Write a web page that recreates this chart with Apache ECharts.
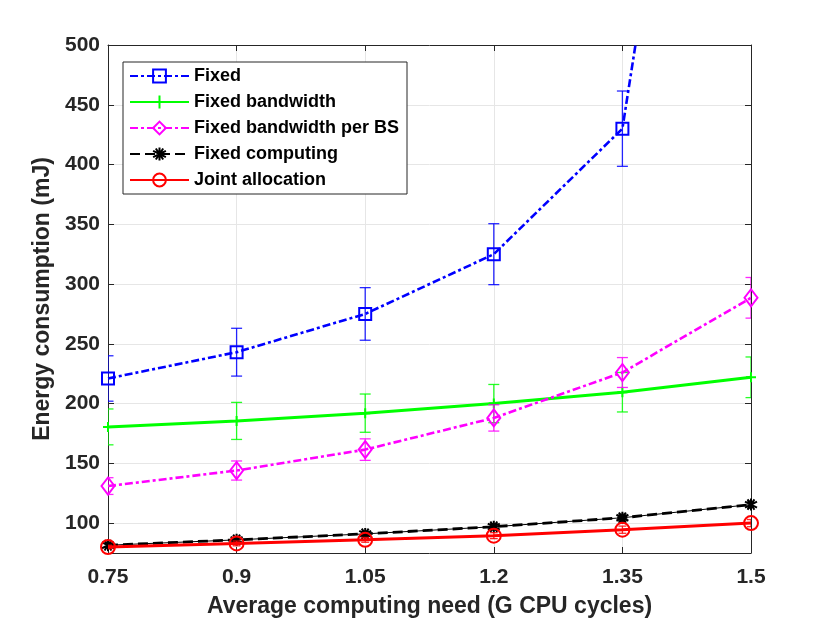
<!DOCTYPE html>
<html lang="en">
<head>
    <meta charset="UTF-8">
    <title>Energy consumption vs computing need</title>
    <script src="https://cdn.jsdelivr.net/npm/echarts@6/dist/echarts.min.js"></script>
    <style>
        html, body { margin: 0; padding: 0; background: #fff; }
        #chart { width: 830px; height: 623px; }
    </style>
</head>
<body>
    <div id="chart"></div>
    <script>
        // values
        var xVals = [0.75, 0.9, 1.05, 1.2, 1.35, 1.5];
        var yTicks = [100, 150, 200, 250, 300, 350, 400, 450, 500];

        var fixed = [221, 243, 275, 325, 430, 1120];
        var fixedErr = [19, 20, 22, 25.5, 31.5, 45];
        var fixedBw = [180.5, 185.5, 192, 200, 209.5, 222];
        var fixedBwErr = [15, 15.5, 16, 16, 16.5, 17];
        var fixedBs = [131, 144, 161.5, 188, 226, 288.5];
        var fixedBsErr = [7, 8, 9, 11, 12.5, 17];
        var fixedComp = [81.5, 86, 91, 97, 104.5, 115.5];
        var fixedCompErr = [1.5, 2, 2, 2.5, 3, 3];
        var joint = [80, 83, 86, 89.5, 94.5, 100];
        var jointErr = [1.5, 2, 2, 2.5, 3, 3];

        var FONT = "'Liberation Sans', Arial, Helvetica, sans-serif";
        var AXIS_COLOR = '#262626';

        function pairs(vals) {
            return xVals.map(function(x, i) { return [x, vals[i]]; });
        }

        function errorBars(name, vals, errs, color, cap, z) {
            return {
                type: 'custom',
                name: name,
                silent: true,
                clip: true,
                z: z,
                data: xVals.map(function(x, i) { return [x, vals[i] - errs[i], vals[i] + errs[i]]; }),
                encode: { x: 0, y: [1, 2] },
                renderItem: function(params, api) {
                    var lo = api.coord([api.value(0), api.value(1)]);
                    var hi = api.coord([api.value(0), api.value(2)]);
                    var st = { stroke: color, lineWidth: 1.3, opacity: 0.85 };
                    return {
                        type: 'group',
                        children: [
                            { type: 'line', shape: { x1: lo[0], y1: lo[1], x2: hi[0], y2: hi[1] }, style: st },
                            { type: 'line', shape: { x1: lo[0] - cap, y1: lo[1], x2: lo[0] + cap, y2: lo[1] }, style: st },
                            { type: 'line', shape: { x1: hi[0] - cap, y1: hi[1], x2: hi[0] + cap, y2: hi[1] }, style: st }
                        ]
                    };
                }
            };
        }

        function lineSeries(name, vals, color, width, dash, symbol, size, z) {
            return {
                type: 'line',
                name: name,
                data: pairs(vals),
                z: z,
                symbol: symbol,
                symbolSize: size,
                showAllSymbol: true,
                clip: true,
                lineStyle: { color: color, width: width, type: dash },
                itemStyle: { color: 'rgba(0,0,0,0)', borderColor: color, borderWidth: 2 },
                emphasis: { disabled: true }
            };
        }

        var chart = echarts.init(document.getElementById('chart'));
        chart.setOption({
            animation: false,
            backgroundColor: '#fff',
            textStyle: { fontFamily: FONT },
            grid: { left: 108, top: 45, width: 643, height: 510, containLabel: false },
            legend: {
                data: ['Fixed', 'Fixed bandwidth', 'Fixed bandwidth per BS', 'Fixed computing', 'Joint allocation'],
                orient: 'vertical',
                left: 123,
                top: 62,
                itemWidth: 59,
                itemHeight: 16,
                itemGap: 8,
                padding: [5, 8, 5, 6],
                selectedMode: false,
                backgroundColor: '#fff',
                borderColor: AXIS_COLOR,
                borderWidth: 1,
                textStyle: { fontFamily: FONT, fontWeight: 'bold', fontSize: 18, color: '#000' }
            },
            xAxis: [{
                type: 'value',
                min: 0.75,
                max: 1.5,
                name: 'Average computing need (G CPU cycles)',
                nameLocation: 'middle',
                nameGap: 42,
                nameTextStyle: { fontFamily: FONT, fontWeight: 'bold', fontSize: 23, color: '#262626' },
                axisLine: { show: true, lineStyle: { color: AXIS_COLOR, width: 1 } },
                axisTick: { show: true, inside: true, length: 6, customValues: xVals, lineStyle: { color: AXIS_COLOR } },
                axisLabel: {
                    customValues: xVals,
                    margin: 14,
                    fontFamily: FONT, fontWeight: 'bold', fontSize: 21, color: '#262626',
                    formatter: function(v) { return String(parseFloat(v.toFixed(2))); }
                },
                splitLine: { show: true, lineStyle: { color: '#e6e6e6', width: 1 } }
            }, {
                type: 'value',
                position: 'top',
                min: 0.75,
                max: 1.5,
                axisLine: { show: true, lineStyle: { color: AXIS_COLOR, width: 1 } },
                axisTick: { show: true, inside: true, length: 6, customValues: xVals, lineStyle: { color: AXIS_COLOR } },
                axisLabel: { show: false },
                splitLine: { show: false }
            }],
            yAxis: [{
                type: 'value',
                min: 75,
                max: 500,
                minInterval: 50,
                maxInterval: 50,
                name: 'Energy consumption (mJ)',
                nameLocation: 'middle',
                nameGap: 50,
                nameTextStyle: { fontFamily: FONT, fontWeight: 'bold', fontSize: 23, color: '#262626' },
                axisLine: { show: true, lineStyle: { color: AXIS_COLOR, width: 1 } },
                axisTick: { show: true, inside: true, length: 6, customValues: yTicks, lineStyle: { color: AXIS_COLOR } },
                axisLabel: {
                    customValues: yTicks,
                    margin: 8,
                    fontFamily: FONT, fontWeight: 'bold', fontSize: 21, color: '#262626'
                },
                splitLine: { show: true, lineStyle: { color: '#e6e6e6', width: 1 } }
            }, {
                type: 'value',
                position: 'right',
                min: 75,
                max: 500,
                minInterval: 50,
                maxInterval: 50,
                axisLine: { show: true, lineStyle: { color: AXIS_COLOR, width: 1 } },
                axisTick: { show: true, inside: true, length: 6, customValues: yTicks, lineStyle: { color: AXIS_COLOR } },
                axisLabel: { show: false },
                splitLine: { show: false }
            }],
            series: [
                errorBars('Fixed err', fixed, fixedErr, '#0000ff', 5.5, 2),
                lineSeries('Fixed', fixed, '#0000ff', 2.6, [8, 3, 3, 3], 'rect', 12, 3),
                errorBars('Fixed bandwidth err', fixedBw, fixedBwErr, '#00ff00', 5.5, 4),
                lineSeries('Fixed bandwidth', fixedBw, '#00ff00', 3,  'solid', 'path://M0,-1V1M-1,0H1', 10, 5),
                errorBars('Fixed bandwidth per BS err', fixedBs, fixedBsErr, '#ff00ff', 5.5, 6),
                lineSeries('Fixed bandwidth per BS', fixedBs, '#ff00ff', 2.6, [8, 3, 3, 3], 'diamond', [13, 17], 7),
                errorBars('Fixed computing err', fixedComp, fixedCompErr, '#000000', 4, 8),
                {
                    type: 'line', name: 'Fixed computing thin', data: pairs(fixedComp), z: 8,
                    symbol: 'none', lineStyle: { color: '#000', width: 1 }, silent: true
                },
                lineSeries('Fixed computing', fixedComp, '#000000', 2.8, [10, 5], 'path://M0,-1V1M-0.87,-0.5L0.87,0.5M-0.87,0.5L0.87,-0.5M-0.5,-0.87L0.5,0.87M-0.5,0.87L0.5,-0.87', 12, 9),
                errorBars('Joint allocation err', joint, jointErr, '#ff0000', 4, 10),
                lineSeries('Joint allocation', joint, '#ff0000', 3, 'solid', 'circle', 14, 11)
            ]
        });
    </script>
</body>
</html>
